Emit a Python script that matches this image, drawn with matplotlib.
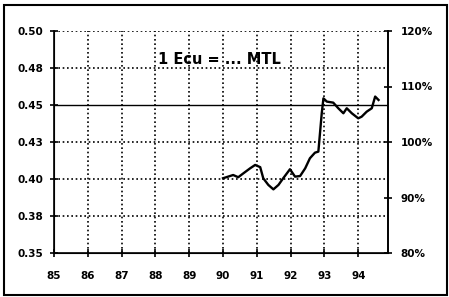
import numpy as np
import matplotlib.pyplot as plt
from matplotlib.patches import Rectangle

plt.rcParams['font.family'] = ['DejaVu Sans']
plt.rcParams['font.weight'] = 'bold'

# exchange rate (MTL per Ecu)
year = [90.0, 90.3, 90.45, 90.6, 90.8, 90.95, 91.1, 91.19, 91.34, 91.49, 91.64,
        91.78, 91.98, 92.13, 92.28, 92.43, 92.57, 92.72, 92.82, 92.92, 92.97,
        93.07, 93.26, 93.41, 93.56, 93.66, 93.81, 94.0, 94.1, 94.25, 94.4,
        94.5, 94.6]
rate = [0.4005, 0.4027, 0.4012, 0.4038, 0.4072, 0.4095, 0.408, 0.4005, 0.396,
        0.393, 0.396, 0.4005, 0.4066, 0.4016, 0.402, 0.4072, 0.414, 0.4178,
        0.4185, 0.4444, 0.4545, 0.4523, 0.4516, 0.4478, 0.4444, 0.4478, 0.4444,
        0.441, 0.4421, 0.4455, 0.4478, 0.4557, 0.4534]

xticks = list(range(85, 95))
yticks = [0.35, 0.375, 0.40, 0.425, 0.45, 0.475, 0.50]
ylabels = ['0.35', '0.38', '0.40', '0.43', '0.45', '0.48', '0.50']
pct = [80, 90, 100, 110, 120]

fig = plt.figure(figsize=(4.49, 2.97), dpi=100)
fig.patches.append(Rectangle((0.008, 0.008), 0.988, 0.975, transform=fig.transFigure,
                             fill=False, lw=1.5, ec='black'))
ax = fig.add_axes([54/449, 1-253/297, (388-54)/449, (253-31)/297])

dots = (0, (1, 1.6))
for x in xticks[1:]:
    ax.axvline(x, color='black', lw=1.2, ls=dots, zorder=1)
for y in yticks[1:-1]:
    if y == 0.45:
        ax.axhline(y, color='black', lw=1.0, zorder=1)
    else:
        ax.axhline(y, color='black', lw=1.2, ls=dots, zorder=1)
ax.axhline(0.50, color='black', lw=1.2, ls=dots, zorder=1)

ax.plot(year, rate, color='black', lw=1.7, zorder=3)

ax.set_xlim(85, 94.88)
ax.set_ylim(0.35, 0.50)
ax.set_xticks(xticks)
ax.set_xticklabels([str(x) for x in xticks])
ax.set_yticks(yticks)
ax.set_yticklabels(ylabels)
ax.spines['top'].set_visible(False)
for s in ['left', 'bottom', 'right']:
    ax.spines[s].set_linewidth(1.2)
ax.tick_params(direction='inout', length=6, width=1.2, labelsize=7.5, pad=5)
ax.tick_params(axis='x', pad=10)

ax2 = ax.twinx()
ax2.set_ylim(0.35, 0.50)
ax2.set_yticks([0.35 + (p - 80) * 0.00375 for p in pct])
ax2.set_yticklabels([f'{p}%' for p in pct])
ax2.spines['top'].set_visible(False)
ax2.spines['right'].set_linewidth(1.2)
ax2.tick_params(direction='inout', length=6, width=1.2, labelsize=7.5, pad=6)

ax.text(89.9, 0.481, '1 Ecu = ... MTL', ha='center', va='center',
        fontsize=10.5, fontweight='bold')

fig.savefig('out.png', dpi=100)
